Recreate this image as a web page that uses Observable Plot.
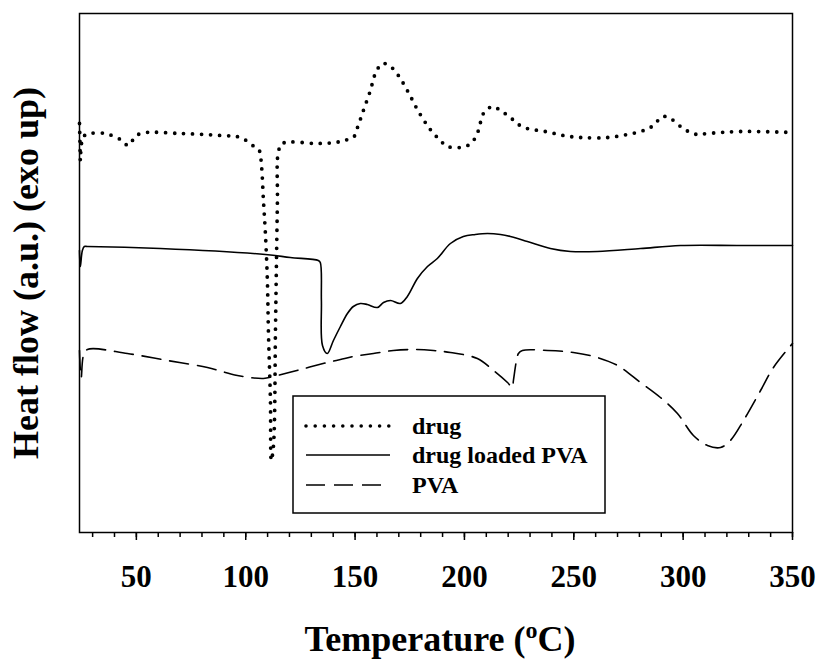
<!DOCTYPE html>
<html><head><meta charset="utf-8">
<script src="https://cdn.jsdelivr.net/npm/d3@7"></script>
<script src="https://cdn.jsdelivr.net/npm/@observablehq/plot@0.6"></script>
<style>
body{margin:0;background:#fff}
#wrap{position:relative;width:821px;height:664px}
#wrap svg{display:block}
</style>
</head><body><div id="wrap"></div>
<script>
// ---- data (heat flow in arbitrary units) ----
const seriesNames = ["drug", "drug loaded PVA", "PVA"];

const drugT  = [24.0,24.2,24.4,24.8,25.8,29.0,35.8,42.7,46.3,48.6,51.8,70.1,88.4,97.6,104.4,106.2,107.2,108.1,109.0,109.9,110.4,111.3,111.7,112.7,113.6,114.0,114.5,114.9,116.8,132.8,141.0,144.7,149.2,151.1,153.8,157.0,159.3,162.5,166.2,169.8,174.4,179.0,184.4,189.0,192.2,200.5,204.1,206.4,208.7,212.8,216.5,221.0,224.7,228.8,237.0,245.3,253.0,265.4,274.5,281.9,286.4,290.5,294.2,298.8,302.4,306.5,311.1,326.2,350.0];
const drugHF = [409,392,372,387,396,399,399,393,387,393,399,399,397,395,385,382,367,332,299,252,199,132,72,87,202,262,332,380,389,389,390,392,395,405,422,442,459,469,466,457,440,421,403,392,386,386,392,402,419,426,422,415,408,404,401,397,395,395,398,402,407,416,414,406,401,398,399,401,400];

const loadedT  = [24.0,24.2,24.4,25.3,26.2,27.6,61.0,109.0,120.4,133.2,134.1,134.6,135.1,137.3,140.1,143.3,146.5,149.2,152.4,155.6,160.2,163.0,166.2,170.7,173.9,178.5,183.1,187.6,193.6,199.5,205.0,210.5,216.5,221.0,228.8,239.3,248.5,260.8,280.5,298.8,326.2,350.0];
const loadedHF = [282,270,266,282,286,286,284,278,275,272,270,232,187,179,192,206,219,226,229,228,225,230,232,229,236,254,266,274,289,296,298,299,298,296,291,284,281,281,284,287,287,287];

const pvaT  = [24.0,24.4,24.8,25.8,27.6,45.9,64.2,82.5,96.2,108.1,112.7,125.0,137.3,143.3,149.2,158.4,167.5,176.7,185.8,193.6,205.9,213.3,219.7,221.9,222.4,223.8,224.7,226.5,238.0,249.8,260.8,270.0,280.5,289.6,297.4,304.7,311.1,317.1,321.6,327.6,335.4,341.3,350.0];
const pvaHF = [182,162,155,177,183,179,172,165,157,154,156,163,170,173,176,179,182,183,182,180,174,162,150,145,152,172,179,182,182,180,175,167,150,135,119,97,87,85,92,112,142,165,189];

const xMajorTicks = [50,100,150,200,250,300,350];
const xMinorTicks = [30,40,50,60,70,80,90,100,110,120,130,140,150,160,170,180,190,200,210,220,230,240,250,260,270,280,290,300,310,320,330,340,350];
const xTitle = "Temperature (oC)";
const yTitle = "Heat flow (a.u.) (exo up)";

// ---- build table ----
const rows = [];
drugT.forEach((t, i) => rows.push({series: seriesNames[0], T: t, hf: drugHF[i]}));
loadedT.forEach((t, i) => rows.push({series: seriesNames[1], T: t, hf: loadedHF[i]}));
pvaT.forEach((t, i) => rows.push({series: seriesNames[2], T: t, hf: pvaHF[i]}));

const font = "'Liberation Serif','Times New Roman',Times,serif";
const styles = {
  "drug": {strokeWidth: 3.8, strokeDasharray: "0 9", strokeLinecap: "round"},
  "drug loaded PVA": {strokeWidth: 1.6},
  "PVA": {strokeWidth: 1.6, strokeDasharray: "19 9"}
};

const plot = Plot.plot({
  width: 821, height: 664,
  marginLeft: 79, marginRight: 29, marginTop: 13, marginBottom: 132,
  style: {fontFamily: font, fontWeight: "bold", color: "black", background: "white", overflow: "visible"},
  x: {domain: [24, 350]},
  y: {domain: [0, 519], axis: null},
  marks: [
    Plot.axisX({ticks: xMinorTicks, tickSize: 5, tickFormat: () => "", strokeWidth: 1.5, label: null}),
    Plot.axisX({ticks: xMajorTicks, tickSize: 8, tickPadding: 24, fontSize: 31, fontWeight: "bold", strokeWidth: 1.5, label: null}),
    ...seriesNames.map(s => Plot.line(rows.filter(d => d.series === s), {
      x: "T", y: "hf", stroke: "black", curve: "catmull-rom", ...styles[s]
    })),
    Plot.frame({stroke: "black", strokeWidth: 1.5}),
    Plot.text([xTitle], {frameAnchor: "bottom", textAnchor: "middle", dx: 4, dy: 118, fontSize: 36, fontWeight: "bold", fill: "black"}),
    Plot.text([yTitle], {frameAnchor: "left", textAnchor: "middle", dx: -53, rotate: -90, fontSize: 36, fontWeight: "bold", fill: "black"})
  ]
});

const wrap = document.getElementById("wrap");
wrap.appendChild(plot);

// superscript "o" in the x title
for (const xt of plot.querySelectorAll("text")) {
  if (xt.textContent === xTitle) {
    xt.textContent = "";
    const ns = "http://www.w3.org/2000/svg";
    const a = document.createElementNS(ns, "tspan"); a.textContent = "Temperature (";
    const b = document.createElementNS(ns, "tspan"); b.textContent = "o"; b.setAttribute("font-size", "24"); b.setAttribute("dy", "-13");
    const c = document.createElementNS(ns, "tspan"); c.textContent = "C)"; c.setAttribute("dy", "13");
    xt.append(a, b, c);
  }
}

// legend inside the plot area (overlay)
const leg = d3.create("svg").attr("width", 821).attr("height", 664)
  .style("position", "absolute").style("left", "0px").style("top", "0px").style("pointer-events", "none");
leg.append("rect").attr("x", 293).attr("y", 396).attr("width", 312).attr("height", 117)
  .attr("fill", "white").attr("stroke", "black").attr("stroke-width", 1.5);
const rowY = [426, 455, 485];
const sampleEnd = [389, 390, 381];
seriesNames.forEach((s, i) => {
  leg.append("line").attr("x1", 306).attr("x2", sampleEnd[i]).attr("y1", rowY[i]).attr("y2", rowY[i])
    .attr("stroke", "black").attr("stroke-width", i === 0 ? 3.6 : 1.6)
    .attr("stroke-dasharray", i === 0 ? "0 9.2" : (i === 2 ? "19 9" : null))
    .attr("stroke-linecap", i === 0 ? "round" : "butt");
  leg.append("text").attr("x", 412).attr("y", rowY[i] + 8).text(s)
    .attr("font-family", font).attr("font-weight", "bold").attr("font-size", 24).attr("fill", "black");
});
wrap.appendChild(leg.node());
</script>
</body></html>
